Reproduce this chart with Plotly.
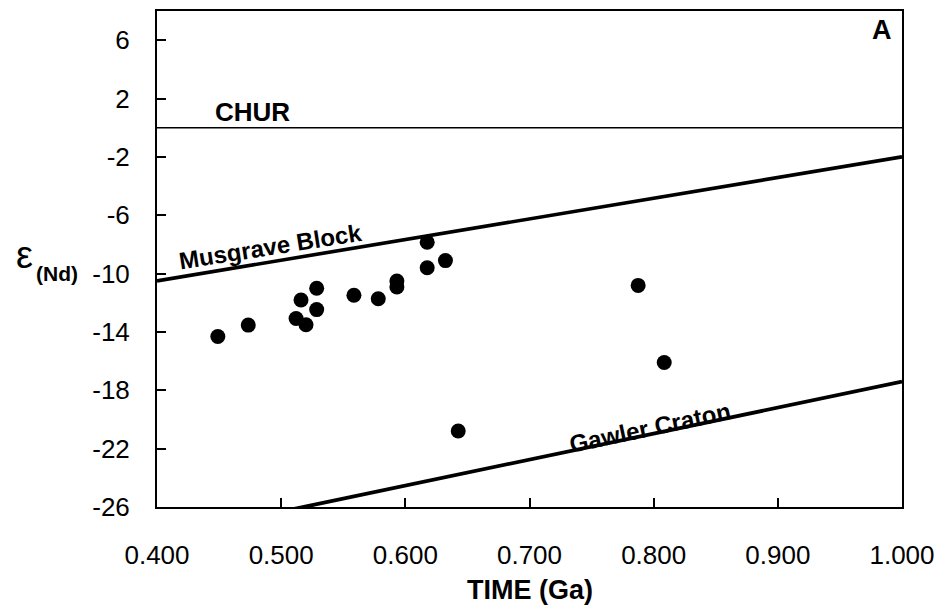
import plotly.graph_objects as go

# Sample data (time in Ga, epsilon Nd)
time_ga = [0.449, 0.4735, 0.512, 0.520, 0.516, 0.5286, 0.5286, 0.5586, 0.5782,
           0.5932, 0.5932, 0.6176, 0.6176, 0.6323, 0.7875, 0.8085, 0.6426]
eps_nd = [-14.31, -13.53, -13.08, -13.51, -11.81, -12.47, -11.01, -11.49, -11.72,
          -10.51, -10.92, -7.85, -9.60, -9.11, -10.81, -16.09, -20.79]

# Reference evolution lines
line_x = [0.400, 1.000]
chur_y = [0.0, 0.0]
musgrave_y = [-10.5, -2.0]
gawler_y = [-28.1, -17.4]

x_ticks = [0.4, 0.5, 0.6, 0.7, 0.8, 0.9, 1.0]
x_tick_labels = ["0.400", "0.500", "0.600", "0.700", "0.800", "0.900", "1.000"]
y_ticks = [-26, -22, -18, -14, -10, -6, -2, 2, 6]
y_tick_labels = ["-26", "-22", "-18", "-14", "-10", "-6", "-2", "2", "6"]

fig = go.Figure()
fig.add_trace(go.Scatter(x=line_x, y=chur_y, mode="lines",
                         line=dict(color="black", width=1.6), showlegend=False))
fig.add_trace(go.Scatter(x=line_x, y=musgrave_y, mode="lines",
                         line=dict(color="black", width=3.6), showlegend=False))
fig.add_trace(go.Scatter(x=line_x, y=gawler_y, mode="lines",
                         line=dict(color="black", width=3.8), showlegend=False))
fig.add_trace(go.Scatter(x=time_ga, y=eps_nd, mode="markers",
                         marker=dict(color="black", size=15), showlegend=False))

font = "Liberation Sans, Arial, sans-serif"
ann = [
    dict(x=0.4773, y=1.09, text="<b>CHUR</b>", font=dict(size=26)),
    dict(x=0.4918, y=-8.12, text="<b>Musgrave Block</b>", font=dict(size=24), textangle=-9),
    dict(x=0.797, y=-20.54, text="<b>Gawler Craton</b>", font=dict(size=24), textangle=-12),
    dict(x=0.9837, y=6.68, text="<b>A</b>", font=dict(size=27)),
]
annotations = []
for a in ann:
    a.update(xref="x", yref="y", showarrow=False, xanchor="center", yanchor="middle")
    a["font"].update(family=font, color="black")
    annotations.append(a)

# axis titles
annotations.append(dict(xref="paper", yref="paper", x=0.5, y=0, yshift=-83,
                        text="<b>TIME (Ga)</b>", showarrow=False,
                        xanchor="center", yanchor="middle",
                        font=dict(family=font, size=27, color="black")))
annotations.append(dict(xref="paper", yref="paper", x=0, y=0, xshift=-133, yshift=252,
                        text="ε", showarrow=False, xanchor="center", yanchor="middle",
                        font=dict(family=font, size=38, color="black")))
annotations.append(dict(xref="paper", yref="paper", x=0, y=0, xshift=-100, yshift=234,
                        text="<b>(Nd)</b>", showarrow=False, xanchor="center", yanchor="middle",
                        font=dict(family=font, size=21, color="black")))

# page body has an 8px default margin: size the figure to fit the window
fig.update_layout(
    width=939, height=601,
    margin=dict(l=149, r=45, t=1, b=102),
    paper_bgcolor="white", plot_bgcolor="white",
    font=dict(family=font, color="black"),
    annotations=annotations,
    xaxis=dict(range=[0.4, 1.0], tickvals=x_ticks, ticktext=x_tick_labels,
               ticks="inside", ticklen=9, tickwidth=1.5, tickcolor="black",
               showline=True, linecolor="black", linewidth=2, mirror=True,
               showgrid=False, zeroline=False, ticklabelstandoff=24,
               tickfont=dict(size=26, family=font, color="black")),
    yaxis=dict(range=[-26, 8], tickvals=y_ticks, ticktext=y_tick_labels,
               ticks="inside", ticklen=9, tickwidth=1.5, tickcolor="black",
               showline=True, linecolor="black", linewidth=2, mirror=True,
               showgrid=False, zeroline=False, ticklabelstandoff=20,
               tickfont=dict(size=26, family=font, color="black")),
)

fig.write_html("out.html")
